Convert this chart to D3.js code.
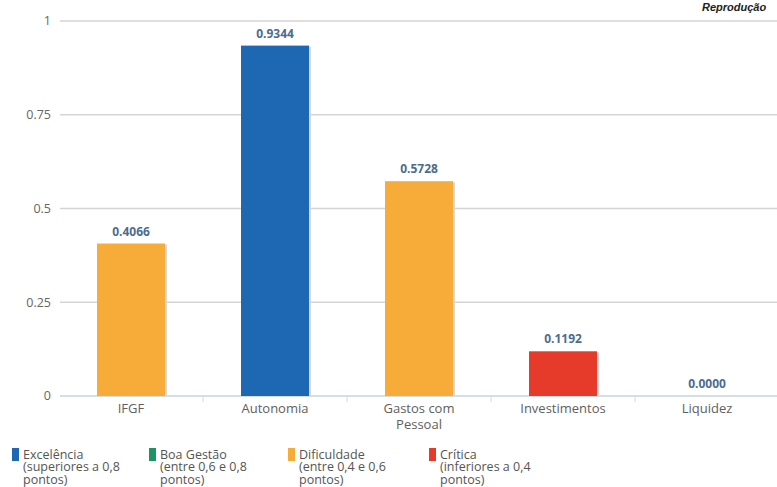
<!DOCTYPE html>
<html>
<head>
<meta charset="utf-8">
<script src="https://cdn.jsdelivr.net/npm/d3@7"></script>
<style>
  html, body { margin: 0; padding: 0; background: #fff; }
  svg { display: block; }
</style>
</head>
<body>
<svg id="chart" width="777" height="487"></svg>
<script>
const categories = [["IFGF"], ["Autonomia"], ["Gastos com", "Pessoal"], ["Investimentos"], ["Liquidez"]];
const values = [0.4066, 0.9344, 0.5728, 0.1192, 0.0000];
const valueLabels = ["0.4066", "0.9344", "0.5728", "0.1192", "0.0000"];
const barClasses = ["Dificuldade", "Excelência", "Dificuldade", "Crítica", "Crítica"];
const yTicks = [0, 0.25, 0.5, 0.75, 1];
const yTickLabels = ["0", "0.25", "0.5", "0.75", "1"];
const legendNames = ["Excelência", "Boa Gestão", "Dificuldade", "Crítica"];
const legendLines = [
  ["Excelência", "(superiores a 0,8", "pontos)"],
  ["Boa Gestão", "(entre 0,6 e 0,8", "pontos)"],
  ["Dificuldade", "(entre 0,4 e 0,6", "pontos)"],
  ["Crítica", "(inferiores a 0,4", "pontos)"]
];
const legendColors = ["#1d67b3", "#1a9467", "#f7ac3a", "#e63a2b"];
const sourceText = "Reprodução";

const svg = d3.select("#chart");
const FONT = "'Open Sans', sans-serif";
const color = d3.scaleOrdinal().domain(legendNames).range(legendColors);

const keys = categories.map(c => c.join(" "));
const x = d3.scaleBand().domain(keys).range([59, 779]).padding(0);
const y = d3.scaleLinear().domain([0, 1]).range([396, 21]);
const barW = 68;

// source note
svg.append("text")
  .attr("x", 702).attr("y", 11)
  .attr("font-family", "'Liberation Sans', Arial, sans-serif")
  .attr("font-size", 11).attr("font-weight", "bold").attr("font-style", "italic")
  .attr("fill", "#222")
  .text(sourceText);

// gridlines
svg.append("g").selectAll("line").data(yTicks).join("line")
  .attr("x1", 60).attr("x2", 777)
  .attr("y1", d => y(d)).attr("y2", d => y(d))
  .attr("stroke", d => d === 0 ? "#c9d3dc" : "#d4d4d4").attr("stroke-width", 1.3);

// y tick labels
svg.append("g").selectAll("text").data(yTicks).join("text")
  .attr("x", 51).attr("y", d => y(d)).attr("dy", "0.35em")
  .attr("text-anchor", "end")
  .attr("font-family", FONT).attr("font-size", 12.5).attr("fill", "#666")
  .text((d, i) => yTickLabels[i]);

// x tick marks at band boundaries
svg.append("g").selectAll("line").data(keys.slice(1)).join("line")
  .attr("x1", d => x(d)).attr("x2", d => x(d))
  .attr("y1", y(0)).attr("y2", y(0) + 6)
  .attr("stroke", "#d0d8e0").attr("stroke-width", 1);

// bars: shadow then bar
const bars = svg.append("g");
bars.selectAll("rect.shadow").data(values).join("rect")
  .attr("class", "shadow")
  .attr("x", (d, i) => x(keys[i]) + x.bandwidth() / 2 - barW / 2 + 2)
  .attr("y", d => y(d) + 1)
  .attr("width", barW)
  .attr("height", d => y(0) - y(d) - 1)
  .attr("fill", "#d8d8d8");
bars.selectAll("rect.bar").data(values).join("rect")
  .attr("class", "bar")
  .attr("x", (d, i) => x(keys[i]) + x.bandwidth() / 2 - barW / 2)
  .attr("y", d => y(d))
  .attr("width", barW)
  .attr("height", d => y(0) - y(d))
  .attr("fill", (d, i) => color(barClasses[i]));

// value labels
svg.append("g").selectAll("text").data(values).join("text")
  .attr("x", (d, i) => x(keys[i]) + x.bandwidth() / 2)
  .attr("y", d => y(d) - 8)
  .attr("text-anchor", "middle")
  .attr("font-family", FONT).attr("font-size", 12).attr("font-weight", "bold")
  .attr("fill", "#4d6c8f")
  .text((d, i) => valueLabels[i]);

// category labels
const cat = svg.append("g").selectAll("text").data(categories).join("text")
  .attr("x", (d, i) => x(keys[i]) + x.bandwidth() / 2)
  .attr("y", 413)
  .attr("text-anchor", "middle")
  .attr("font-family", FONT).attr("font-size", 13).attr("fill", "#606060");
cat.each(function(d) {
  const t = d3.select(this);
  d.forEach((line, j) => {
    t.append("tspan").attr("x", t.attr("x")).attr("dy", j === 0 ? 0 : 15.5).text(line);
  });
});

// legend
const legendX = [12, 149, 288, 429];
const lg = svg.append("g").selectAll("g").data(legendNames).join("g")
  .attr("transform", (d, i) => `translate(${legendX[i]},447)`);
lg.append("rect").attr("x", 0).attr("y", 1).attr("width", 7).attr("height", 13)
  .attr("fill", d => color(d));
lg.append("text")
  .attr("font-family", FONT).attr("font-size", 12.5).attr("fill", "#555")
  .each(function(d, i) {
    const t = d3.select(this);
    legendLines[i].forEach((line, j) => {
      t.append("tspan").attr("x", 11).attr("y", 11.5 + j * 12.5).text(line);
    });
  });
</script>
</body>
</html>
